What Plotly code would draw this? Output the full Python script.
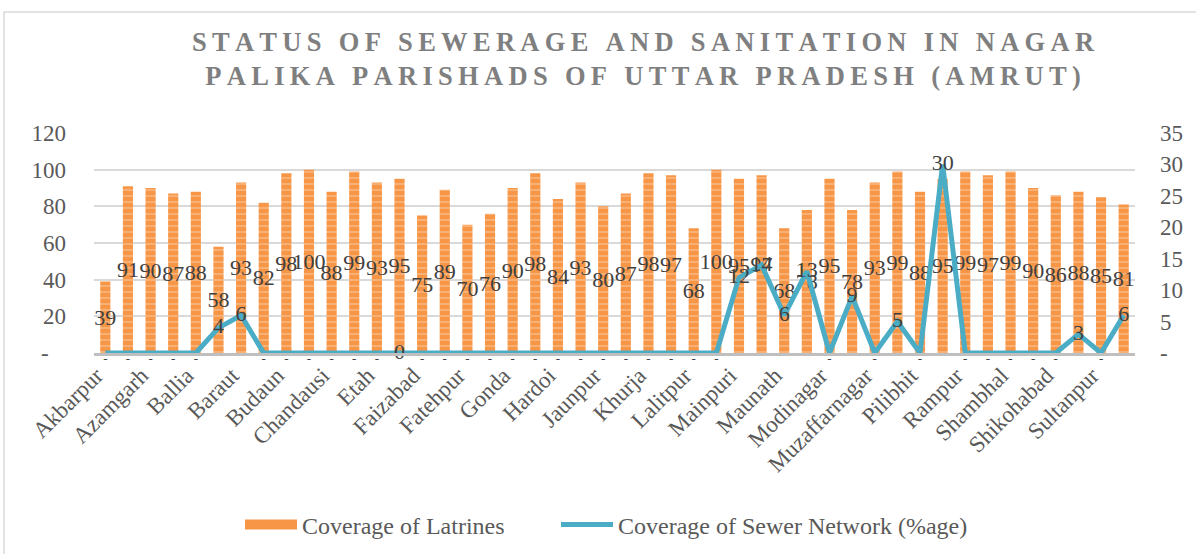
import plotly.graph_objects as go

categories = [
    "Akbarpur", "Amroha", "Azamgarh", "Bahraich", "Ballia", "Banda", "Baraut", "Basti",
    "Budaun", "Bulandshahr", "Chandausi", "Deoria", "Etah", "Etawah", "Faizabad",
    "Farrukhabad", "Fatehpur", "Ghazipur", "Gonda", "Hapur", "Hardoi", "Hathras",
    "Jaunpur", "Kasganj", "Khurja", "Lakhimpur", "Lalitpur", "Loni", "Mainpuri",
    "Mathura", "Maunath", "Mirzapur", "Modinagar", "Mughalsarai", "Muzaffarnagar",
    "Orai", "Pilibhit", "Raebareli", "Rampur", "Shahjahanpur", "Shambhal", "Shamli",
    "Shikohabad", "Sitapur", "Sultanpur", "Unnao",
]

latrines = [39, 91, 90, 87, 88, 58, 93, 82, 98, 100, 88, 99, 93, 95, 75, 89, 70, 76,
            90, 98, 84, 93, 80, 87, 98, 97, 68, 100, 95, 97, 68, 78, 95, 78, 93, 99,
            88, 95, 99, 97, 99, 90, 86, 88, 85, 81]

sewer = [0, 0, 0, 0, 0, 4, 6, 0, 0, 0, 0, 0, 0, 0, 0, 0, 0, 0, 0, 0, 0, 0, 0, 0,
         0, 0, 0, 0, 12, 14, 6, 13, 0, 9, 0, 5, 0, 30, 0, 0, 0, 0, 0, 3, 0, 6]

# labels as printed in the chart (zero shown as "-" except one explicit "0")
sewer_labels = ["-" if v == 0 else str(v) for v in sewer]
sewer_labels[13] = "0"
dash_idx = [i for i, t in enumerate(sewer_labels) if t == "-"]

left_ticks = [0, 20, 40, 60, 80, 100, 120]
left_ticktext = ["-\u00a0\u00a0\u00a0", "20", "40", "60", "80", "100", "120"]
right_ticks = [0, 5, 10, 15, 20, 25, 30, 35]
right_ticktext = ["-", "5", "10", "15", "20", "25", "30", "35"]

title_lines = ["STATUS OF SEWERAGE AND SANITATION IN NAGAR",
               "PALIKA PARISHADS OF UTTAR PRADESH (AMRUT)"]

FONT = "Liberation Serif"
W, H = 1196, 554
L, R, T, B = 94, 61, 133, 201
pw, ph = W - L - R, H - T - B
ORANGE = "#F79646"
TEAL = "#4BACC6"


def spaced(s):
    return "\u2009".join(list(s))


text_pos = ["bottom center" if i in dash_idx else "middle center"
            for i in range(len(sewer))]
text_size = [13 if i in dash_idx else 22 for i in range(len(sewer))]

fig = go.Figure()
fig.add_trace(go.Bar(
    x=categories, y=latrines, name="Coverage of Latrines",
    legendgroup="lat", showlegend=False,
    marker=dict(color=ORANGE,
                line=dict(width=0),
                pattern=dict(shape="-", fgcolor="rgba(255,255,255,0.55)",
                             size=6, solidity=0.3, fillmode="overlay")),
    text=[str(v) for v in latrines], textposition="inside", textangle=0,
    insidetextanchor="middle", constraintext="none",
    textfont=dict(family=FONT, size=22, color="#404040"),
    yaxis="y",
))
# legend entry for the bar series (wide swatch like the reference)
fig.add_trace(go.Scatter(
    x=[None], y=[None], name="Coverage of Latrines", legendgroup="lat",
    mode="lines", line=dict(color=ORANGE, width=13), yaxis="y", legend="legend",
))
fig.add_trace(go.Scatter(
    x=categories, y=sewer, name="Coverage of Sewer Network (%age)",
    mode="lines+text", line=dict(color=TEAL, width=5),
    text=sewer_labels, textposition=text_pos,
    textfont=dict(family=FONT, size=text_size, color="#404040"),
    yaxis="y2", cliponaxis=False, legend="legend2",
))

legend_common = dict(orientation="h", yanchor="middle", itemwidth=52,
                     font=dict(family=FONT, size=24, color="#595959"),
                     bgcolor="rgba(0,0,0,0)")

fig.update_layout(
    width=W, height=H,
    margin=dict(l=L, r=R, t=T, b=B, autoexpand=False),
    paper_bgcolor="white", plot_bgcolor="white",
    font=dict(family=FONT, color="#595959"),
    bargap=0.55,
    showlegend=True,
    title=dict(text="<b>" + "<br>".join(spaced(t) for t in title_lines) + "</b>",
               xref="container", yref="container", x=643 / W, xanchor="center",
               y=1 - 51 / H, yanchor="top",
               font=dict(family=FONT, size=26.5, color="#7f7f7f")),
    xaxis=dict(type="category", range=[-0.5, len(categories) - 0.5],
               tickmode="array", tickvals=categories[::2],
               ticktext=categories[::2], tickangle=-45,
               tickfont=dict(family=FONT, size=23, color="#595959"),
               ticklabelshift=-9, ticklabelstandoff=-3,
               showline=True, linecolor="#bfbfbf", linewidth=3,
               showgrid=False, ticks=""),
    yaxis=dict(range=[0, 120], tickmode="array", tickvals=left_ticks,
               ticktext=left_ticktext, showgrid=True, gridcolor="#d9d9d9",
               gridwidth=1.5, zeroline=False, ticks="",
               tickfont=dict(family=FONT, size=23, color="#595959"),
               ticklabelstandoff=27),
    yaxis2=dict(range=[0, 35], overlaying="y", side="right", tickmode="array",
                tickvals=right_ticks, ticktext=right_ticktext, showgrid=False,
                zeroline=False, ticks="",
                tickfont=dict(family=FONT, size=23, color="#595959"),
                ticklabelstandoff=24),
    legend=dict(x=(240 - L) / pw, xanchor="left", y=(353 - 525) / ph,
                **legend_common),
    legend2=dict(x=(556 - L) / pw, xanchor="left", y=(353 - 525) / ph,
                 **legend_common),
    shapes=[dict(type="rect", xref="paper", yref="paper",
                 x0=(4 - L) / pw, x1=(1210 - L) / pw,
                 y0=(353 - 570) / ph, y1=(353 - 12) / ph,
                 line=dict(color="#d9d9d9", width=1.5), fillcolor="rgba(0,0,0,0)",
                 layer="below")],
)

# remove the default 8px page margin so the figure sits at the window origin
fig.write_html("out.html", config={"displayModeBar": False},
               post_script="document.body.style.margin='0';")
